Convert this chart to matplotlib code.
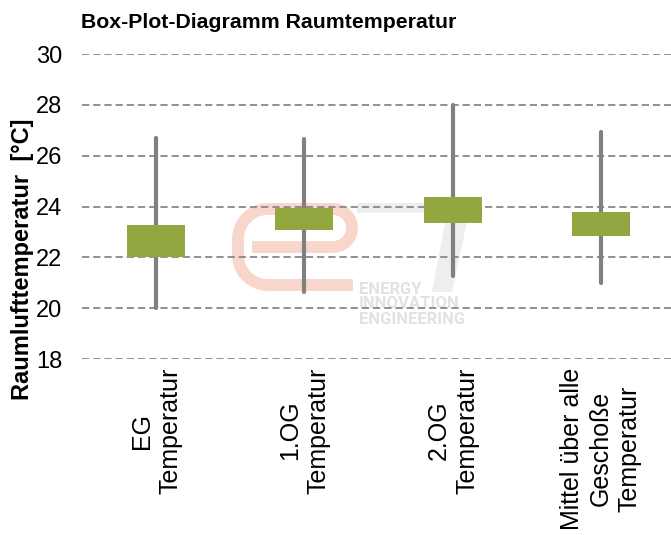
import numpy as np
import matplotlib
matplotlib.use("Agg")
import matplotlib.pyplot as plt
from matplotlib.path import Path
from matplotlib.patches import PathPatch, Polygon

plt.rcParams['font.family'] = ['Liberation Sans', 'DejaVu Sans']

# === Daten (Raumlufttemperatur in °C) ===
kategorien = ["EG\nTemperatur", "1.OG\nTemperatur", "2.OG\nTemperatur",
              "Mittel über alle\nGeschoße\nTemperatur"]
t_min = [20.0, 20.63, 21.28, 20.99]
q1 = [22.0, 23.09, 23.37, 22.82]
q3 = [23.27, 23.96, 24.37, 23.80]
t_max = [26.68, 26.64, 28.0, 26.94]

W, H = 671, 535
fig = plt.figure(figsize=(W / 100, H / 100), dpi=100)


def fx(px):
    return px / W


def fy(py):
    return 1 - py / H


# === Logo im Hintergrund ===
def bogen(cx, cy, r, t0, t1, n=20):
    t = np.radians(np.linspace(t0, t1, n))
    return list(zip(cx + r * np.cos(t), cy + r * np.sin(t)))


e_pts = [(252, 247)] + bogen(333, 228, 19, 90, -90) + [(268, 209)]
e_pts += bogen(268, 239, 30, -90, -180) + [(238, 255)]
e_pts += bogen(268, 255, 30, 180, 90) + [(353, 285)]
e_path = Path([(fx(x), fy(y)) for x, y in e_pts])
fig.patches.append(PathPatch(e_path, fill=False, edgecolor='#f8d6cc', lw=8.5,
                             capstyle='butt', joinstyle='round',
                             transform=fig.transFigure, zorder=-2))
sieben = [(357, 203), (471, 203), (452, 292), (432, 292), (447, 213), (357, 213)]
fig.patches.append(Polygon([(fx(x), fy(y)) for x, y in sieben], closed=True,
                           facecolor='#eeeeee', edgecolor='none',
                           transform=fig.transFigure, zorder=-2))
fig.text(fx(359), fy(304), "ENERGY\nINNOVATION\nENGINEERING", color='#e2e2e2',
         fontsize=12, fontweight='bold', ha='left', va='center', linespacing=1.0,
         family=['Roboto', 'Liberation Sans'], zorder=-2)

# === Diagramm ===
ax = fig.add_axes([fx(82), fy(359), 593 / W, (359 - 54) / H])
ax.patch.set_alpha(0)
x = np.arange(len(kategorien))

for xi, lo, hi in zip(x, t_min, t_max):
    ax.plot([xi, xi], [lo, hi], color='#808080', lw=3, solid_capstyle='round', zorder=2)
ax.bar(x, np.array(q3) - np.array(q1), bottom=q1, width=0.39,
       color='#92a73f', zorder=3)

ax.set_xlim(-0.5, 3.5)
ax.set_ylim(18, 30)
ax.set_yticks(np.arange(18, 31, 2))
ax.yaxis.grid(True, color='#888888', lw=1.3, linestyle=(0, (4, 2.2)), zorder=1)
ax.set_axisbelow(True)
for s in ax.spines.values():
    s.set_visible(False)

ax.set_xticks(x)
ax.set_xticklabels(kategorien, rotation=90, ha='center', va='top',
                   multialignment='center', linespacing=1.25)
ax.tick_params(axis='x', length=0, pad=6, labelsize=18)
ax.tick_params(axis='y', length=0, pad=14, labelsize=17)

fig.text(fx(23), fy(259), "Raumlufttemperatur  [°C]", rotation=90, ha='center',
         va='center', fontsize=17, fontweight='bold')
fig.text(fx(269), fy(28), "Box-Plot-Diagramm Raumtemperatur", ha='center',
         va='baseline', fontsize=15.3, fontweight='bold')

fig.savefig("out.png", dpi=100)
